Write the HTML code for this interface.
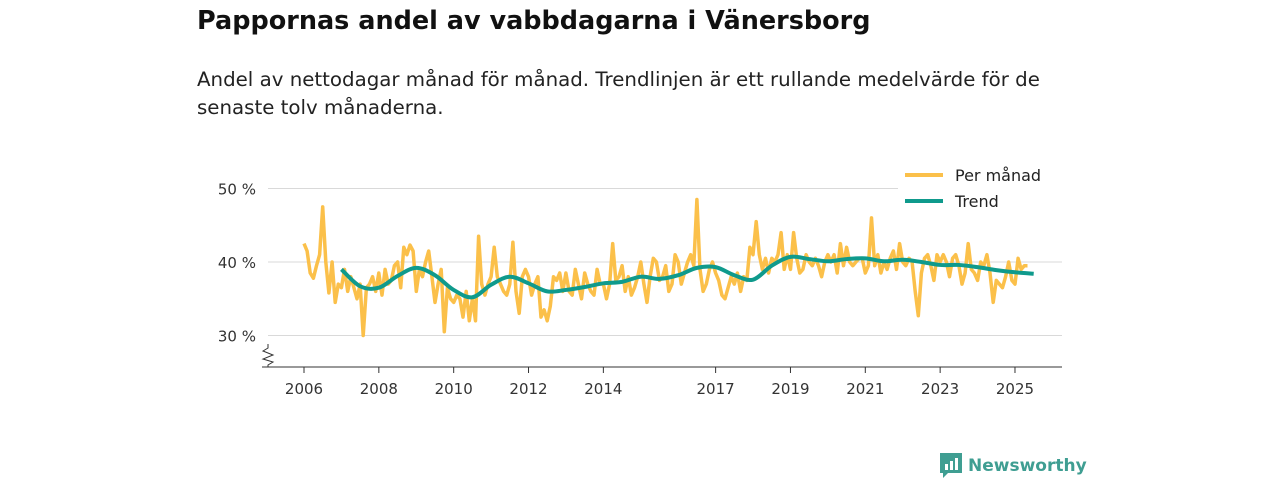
<!DOCTYPE html>
<html><head><meta charset="utf-8">
<style>
body{margin:0;background:#fff;font-family:"DejaVu Sans","Liberation Sans",sans-serif;}
#wrap{position:relative;width:1280px;height:480px;overflow:hidden;}
h1{position:absolute;left:197px;top:6px;margin:0;font-size:25.5px;font-weight:bold;color:#111;}
p.sub{position:absolute;left:197px;top:66px;margin:0;font-size:19.8px;line-height:28px;color:#222;width:900px;}
svg{position:absolute;left:0;top:0;}
</style></head><body>
<div id="wrap">
<h1>Pappornas andel av vabbdagarna i Vänersborg</h1>
<p class="sub">Andel av nettodagar månad för månad. Trendlinjen är ett rullande medelvärde för de<br>senaste tolv månaderna.</p>
<svg id="chart" width="1280" height="480"></svg>
</div>
<script>
const startYear = 2006;
const monthly = [
42.5,41.5,38.5,37.8,39.5,41,47.5,40,35.8,40,34.5,37,
36.5,39,36,38,36.5,35,37,30,36.5,37,38,36,
38.5,35.5,39,37,37.5,39.5,40,36.5,42,41,42.3,41.5,
36,39,38,40,41.5,38,34.5,37,39,30.5,36.5,35,
34.5,35.5,35,32.5,36,32,35,32,43.5,37,35.5,37,
38,42,38,37,36,35.5,37,42.7,36,33,38,39,
38,35.5,37,38,32.5,33.5,32,34,38,37.5,38.5,36,
38.5,36,35.5,39,37,35,38.5,37,36,35.5,39,37,
37,35,37,42.5,37.5,38,39.5,36,38,35.5,36.5,38,
40,37,34.5,38,40.5,40,37.5,38,39.5,36,37,41,
40,37,38.5,40,41,39.5,48.5,39,36,37,39,40,
38.5,37.5,35.5,35,36.5,38,37,38.5,36,38,37.5,42,
41,45.5,41,39,40.5,38.5,40.5,40,41,44,39,41,
39,44,40.5,38.5,39,41,40,39.5,40.5,39.5,38,40,
41,40,41,38.5,42.5,39.5,42,40,39.5,40,40.5,40.5,
38.5,39.5,46,39.5,41,38.5,40,39,40.5,41.5,39,42.5,
40,39.5,40.5,40,36,32.7,38.5,40.5,41,39.5,37.5,41,
40,41,40,38,40.5,41,39.5,37,38.5,42.5,39,38.5,
37.5,40,39.5,41,38.5,34.5,37.5,37,36.5,38,40,37.5,
37,40.5,39,39.5,39.5
];
const trendStart = 2007.0;
const trend = [39.0,36.7,36.5,38.1,39.2,38.2,36.2,35.2,36.9,38.0,37.1,36.0,36.2,36.6,37.1,37.3,38.0,37.7,38.2,39.2,39.3,38.2,37.6,39.5,40.7,40.4,40.1,40.4,40.5,40.1,40.3,40.0,39.6,39.6,39.3,38.9,38.6,38.4];
const yTicks = [30,40,50];
const xTicks = [2006,2008,2010,2012,2014,2017,2019,2021,2023,2025];

const NS="http://www.w3.org/2000/svg";
const svg=document.getElementById('chart');
const X=t=>304+(t-2006)*37.42;
const Y=v=>262-(v-40)*7.35;
function mk(tag,attrs,parent){const e=document.createElementNS(NS,tag);for(const k in attrs)e.setAttribute(k,attrs[k]);(parent||svg).appendChild(e);return e;}

yTicks.forEach(v=>{
  const l=mk('line',{x1:268,x2:1062,y1:Y(v),y2:Y(v),stroke:'#d9d9d9','stroke-width':1});
  
  
  const t=mk('text',{x:256,y:Y(v)+6,'text-anchor':'end','font-size':15,fill:'#333'});
  t.textContent=v+' %';
  
  
});
const ax=mk('line',{x1:262,x2:1062,y1:367,y2:367,stroke:'#333','stroke-width':1});


const brk=mk('polyline',{points:'268,344 268,348 263,351 273,355 263,359 273,362 268,365 268,367',fill:'none',stroke:'#333','stroke-width':1});


xTicks.forEach(y=>{
  const l=mk('line',{x1:X(y),x2:X(y),y1:367,y2:373,stroke:'#333'});
  
  
  const t=mk('text',{x:X(y),y:394,'text-anchor':'middle','font-size':15,fill:'#333'});
  t.textContent=y;
  
  
});

const mp=monthly.map((v,i)=>X(startYear+i/12).toFixed(1)+','+Y(v).toFixed(1)).join(' ');
const m=mk('polyline',{points:mp,fill:'none',stroke:'#fbc04a','stroke-width':3.5,'stroke-linejoin':'round'});


const tpts=trend.map((v,i)=>[X(trendStart+i/2),Y(v)]);
let d='M'+tpts[0][0]+','+tpts[0][1];
for(let i=0;i<tpts.length-1;i++){
  const p0=tpts[Math.max(0,i-1)],p1=tpts[i],p2=tpts[i+1],p3=tpts[Math.min(tpts.length-1,i+2)];
  const c1=[p1[0]+(p2[0]-p0[0])/6,p1[1]+(p2[1]-p0[1])/6];
  const c2=[p2[0]-(p3[0]-p1[0])/6,p2[1]-(p3[1]-p1[1])/6];
  d+=' C'+c1.join(',')+' '+c2.join(',')+' '+p2.join(',');
}
const tr=mk('path',{d:d,fill:'none',stroke:'#0f9a8c','stroke-width':4,'stroke-linejoin':'round'});



const lg=mk('g',{});


mk('rect',{x:898,y:162,width:164,height:52,fill:'#fff'},lg);
mk('line',{x1:905,x2:943,y1:175,y2:175,stroke:'#fbc04a','stroke-width':4},lg);
const t1=mk('text',{x:955,y:181,'font-size':16,fill:'#222'},lg);t1.textContent='Per månad';


mk('line',{x1:905,x2:943,y1:201,y2:201,stroke:'#0f9a8c','stroke-width':4},lg);
const t2=mk('text',{x:955,y:207,'font-size':16,fill:'#222'},lg);t2.textContent='Trend';



const logo=mk('g',{});


mk('path',{d:'M940,453 h22 v20 h-14 l-5,5 v-5 h-3 z',fill:'#3f9e92'},logo);
mk('rect',{x:945,y:464,width:3,height:6,fill:'#fff'},logo);
mk('rect',{x:950,y:461,width:3,height:9,fill:'#fff'},logo);
mk('rect',{x:955,y:458,width:3,height:12,fill:'#fff'},logo);
const lt=mk('text',{x:968,y:471,'font-size':17,'font-weight':'bold',fill:'#3f9e92'},logo);lt.textContent='Newsworthy';
</script>
</body></html>
